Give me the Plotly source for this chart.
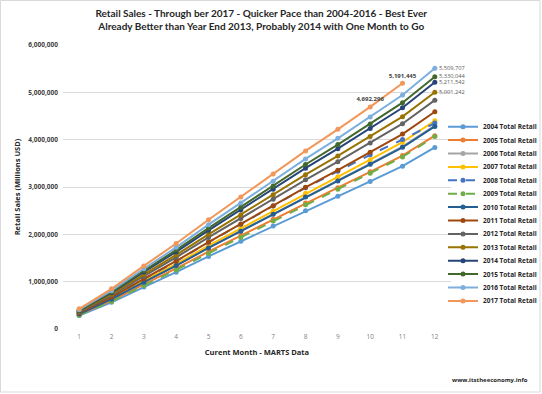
import plotly.graph_objects as go

months = [1, 2, 3, 4, 5, 6, 7, 8, 9, 10, 11, 12]

y2004 = [283800, 563700, 885900, 1200400, 1534000, 1852300, 2174400, 2500400, 2803400, 3117900, 3440000, 3835000]
y2005 = [302300, 600500, 943600, 1278600, 1634000, 1973100, 2316200, 2663400, 2986100, 3321100, 3664200, 4085000]
y2006 = [317800, 631400, 992100, 1344300, 1718000, 2074500, 2435300, 2800300, 3139600, 3491800, 3852600, 4295000]
y2007 = [325600, 646800, 1016400, 1377200, 1760000, 2125200, 2494800, 2868800, 3216400, 3577200, 3946800, 4400000]
y2008 = [339300, 669900, 1057100, 1431200, 1831400, 2214200, 2597000, 2984100, 3332100, 3680100, 4002000, 4350000]
y2009 = [292700, 581300, 918700, 1248000, 1597500, 1934900, 2280500, 2626000, 2951200, 3288600, 3634100, 4065000]
y2010 = [316700, 629200, 988700, 1339600, 1712000, 2067200, 2426800, 2790600, 3128700, 3479600, 3839200, 4280000]
y2011 = [339700, 674700, 1060300, 1436700, 1836000, 2217000, 2602500, 2992700, 3355300, 3731700, 4117200, 4590000]
y2012 = [357800, 710700, 1116900, 1513400, 1934000, 2335300, 2741400, 3152400, 3534400, 3930900, 4337000, 4835000]
y2013 = [370100, 735200, 1155300, 1565400, 2000500, 2415600, 2835700, 3260800, 3655900, 4066000, 4486100, 5001242]
y2014 = [385700, 766100, 1203900, 1631200, 2084600, 2517200, 2955000, 3398000, 3809600, 4237000, 4674800, 5211542]
y2015 = [394400, 783500, 1231200, 1668300, 2132000, 2574400, 3022100, 3475200, 3896300, 4333300, 4781000, 5330044]
y2016 = [407700, 809900, 1272700, 1724500, 2203900, 2661200, 3124000, 3592300, 4027600, 4479400, 4942200, 5509707]
y2017 = [427100, 848400, 1333200, 1806400, 2308400, 2787500, 3272200, 3762800, 4218900, 4692296, 5191445]

series_names = ["2004 Total Retail", "2005 Total Retail", "2006 Total Retail", "2007 Total Retail",
                "2008 Total Retail", "2009 Total Retail", "2010 Total Retail", "2011 Total Retail",
                "2012 Total Retail", "2013 Total Retail", "2014 Total Retail", "2015 Total Retail",
                "2016 Total Retail", "2017 Total Retail"]
series_values = [y2004, y2005, y2006, y2007, y2008, y2009, y2010, y2011, y2012, y2013, y2014, y2015, y2016, y2017]
colors = ["#5B9BD5", "#ED7D31", "#A5A5A5", "#FFC000", "#4472C4", "#70AD47", "#255E91",
          "#9E480E", "#636363", "#997300", "#264478", "#43682B", "#7CAFDD", "#F1975A"]
dashes = ["solid"] * 4 + ["dash", "dash"] + ["solid"] * 8
end_labeled = {"2013 Total Retail", "2014 Total Retail", "2015 Total Retail", "2016 Total Retail"}

# plot area in pixels: x 63..451, y 45..329
PLOT_LEFT, PLOT_RIGHT = 63, 451
PLOT_TOP, PLOT_BOTTOM = 45, 329
PW = PLOT_RIGHT - PLOT_LEFT
PH = PLOT_BOTTOM - PLOT_TOP

fig = go.Figure()
legend_layouts = {}
for i, (name, vals, col, dash) in enumerate(zip(series_names, series_values, colors, dashes)):
    x = months[:len(vals)]
    texts = [""] * len(vals)
    tpos = "middle right"
    tfont = dict(family="Open Sans", size=5.7, color="#595959")
    if name in end_labeled:
        texts[-1] = f"{vals[-1]:,}"
    if name == "2017 Total Retail":
        texts[-1] = f"{vals[-1]:,}"
        texts[-2] = f"{vals[-2]:,}"
        tpos = "top center"
        tfont = dict(family="Open Sans", size=6, color="#404040", weight="bold")
    lg = "legend" if i == 0 else f"legend{i + 1}"
    fig.add_trace(go.Scatter(
        x=x, y=vals, name=name, mode="lines+markers+text",
        text=texts, textposition=tpos, textfont=tfont,
        line=dict(color=col, width=2, dash=dash),
        marker=dict(color=col, size=5, symbol="circle"),
        cliponaxis=False, legend=lg,
    ))
    py = 126.7 + i * 13.4
    legend_layouts[lg] = dict(
        x=(443 - PLOT_LEFT) / PW, y=(PLOT_BOTTOM - py) / PH, xanchor="left", yanchor="middle",
        font=dict(family="Open Sans", size=6.5, color="#262626", weight="bold"),
        itemwidth=30, bgcolor="rgba(0,0,0,0)", borderwidth=0,
    )

fig.update_layout(
    width=542, height=394,
    margin=dict(l=PLOT_LEFT, r=542 - PLOT_RIGHT, t=PLOT_TOP, b=394 - PLOT_BOTTOM, autoexpand=False),
    paper_bgcolor="white", plot_bgcolor="white",
    font=dict(family="Open Sans", color="#404040"),
    showlegend=True,
    xaxis=dict(range=[0.5, 12.5], tickmode="array", tickvals=months,
               ticktext=[str(m) for m in months], showgrid=False, zeroline=False,
               showline=False, tickfont=dict(size=6.5, color="#7F7F7F"), ticklabelstandoff=2,
               title=dict(text="Curent Month - MARTS Data", font=dict(size=7.5, color="#262626", weight="bold"), standoff=10)),
    yaxis=dict(range=[0, 6000000], tickvals=[0, 1000000, 2000000, 3000000, 4000000, 5000000, 6000000],
               tickformat=",d", showgrid=True, gridcolor="#D9D9D9", gridwidth=1, zeroline=False,
               tickfont=dict(size=6.5, color="#404040", weight="bold"), ticks="", ticklen=0,
               ticklabelstandoff=4,
               title=dict(text="Retail Sales (Millions USD)", font=dict(size=7.5, color="#262626", weight="bold"), standoff=6)),
    title=dict(text="Retail Sales - Through ber 2017 - Quicker Pace than 2004-2016 - Best Ever<br>Already Better than Year End 2013, Probably 2014 with One Month to Go",
               x=0.482, xanchor="center", y=0.957, yanchor="top",
               font=dict(family="Lato", size=10, color="#262626", weight="bold")),
    **legend_layouts,
)

fig.add_annotation(text="<b>www.itstheeconomy.info</b>", xref="paper", yref="paper",
                   x=(530 - PLOT_LEFT) / PW, y=(PLOT_BOTTOM - 380) / PH, xanchor="right", yanchor="middle",
                   showarrow=False, font=dict(family="Open Sans", size=6, color="#262626"))
fig.add_shape(type="rect", xref="paper", yref="paper",
              x0=(0.5 - PLOT_LEFT) / PW, x1=(540 - PLOT_LEFT) / PW,
              y0=(PLOT_BOTTOM - 392) / PH, y1=(PLOT_BOTTOM - 0.5) / PH,
              line=dict(color="#D9D9D9", width=1), layer="below")

fig.write_html("out.html", config={"displayModeBar": False},
               post_script="document.body.style.margin='0';")
